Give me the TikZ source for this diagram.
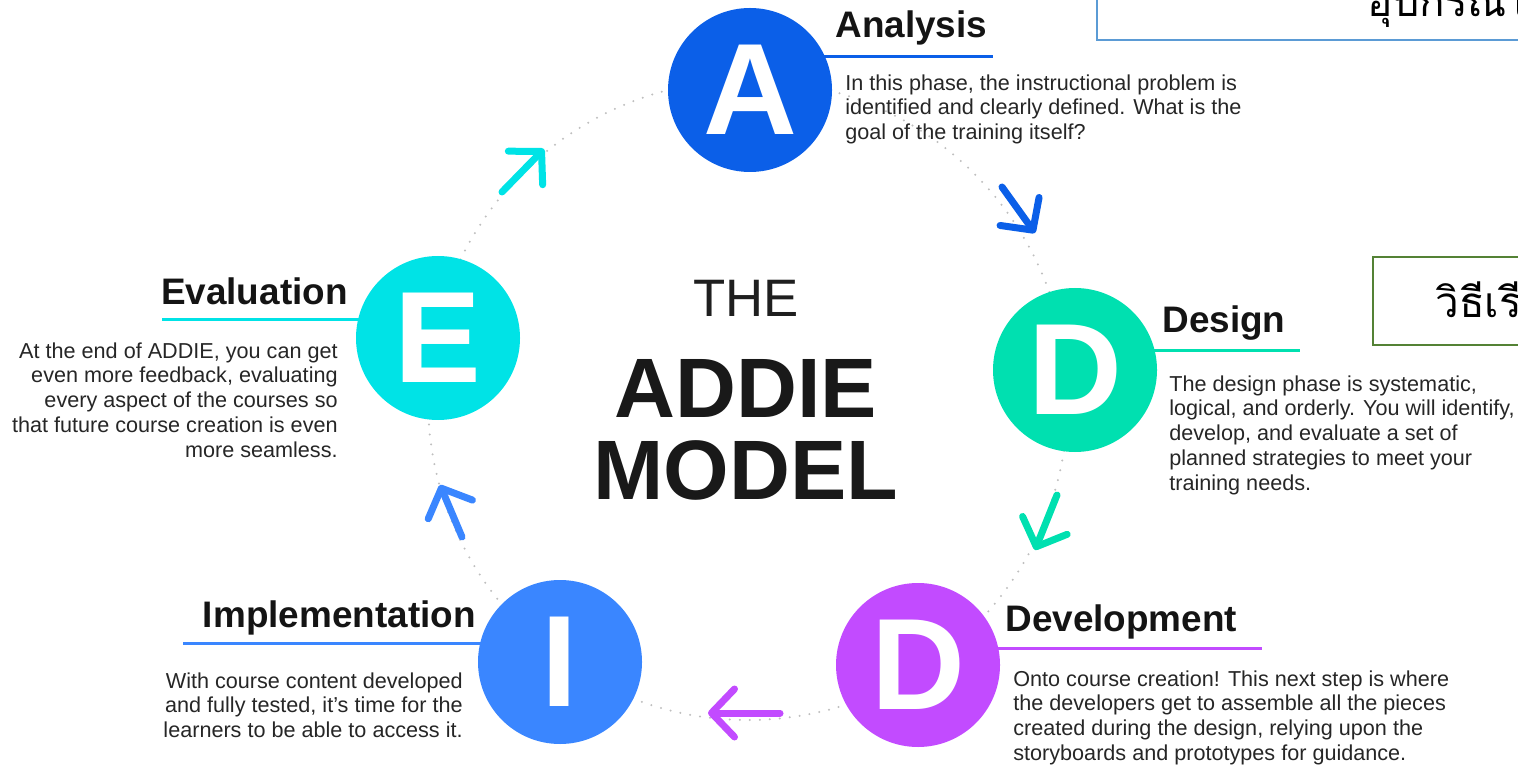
\documentclass[tikz,border=0pt]{standalone}
\usepackage{fontspec}
\setmainfont{Liberation Sans}
\newfontfamily\thaifont[Script=Thai]{Loma}
\usepackage{tikz}
\usetikzlibrary{arrows.meta}
\definecolor{anablue}{HTML}{0B5FE8}
\definecolor{desgreen}{HTML}{00E0B0}
\definecolor{devpurple}{HTML}{C24BFF}
\definecolor{impblue}{HTML}{3A86FF}
\definecolor{evacyan}{HTML}{00E3E6}
\definecolor{boxblue}{HTML}{5B9BD5}
\definecolor{boxgreen}{HTML}{548235}
\tikzset{
	phase/.style={circle, minimum size=32.8mm, inner sep=0pt, text=white, font=\fontsize{74}{74}\selectfont\bfseries},
	phasetitle/.style={inner sep=0pt, text=black!92, font=\fontsize{21}{24}\selectfont\bfseries},
	phasetext/.style={inner sep=0pt, text=black!85, font=\fontsize{12.3}{14.2}\selectfont},
	underline/.style={line width=0.6mm},
	ring/.style={black!25, line width=0.45mm, line cap=round, dash pattern=on 0pt off 2mm},
	ringarrow/.style={line width=1.4mm, line cap=round, -{Straight Barb[round, length=4.6mm, width=9.6mm]}},
	notebox/.style={line width=0.5mm},
	notetext/.style={anchor=base west, inner sep=0pt, font=\thaifont\fontsize{24}{28}\selectfont}
}

\begin{document}
\begin{tikzpicture}[x=0.2mm, y=-0.2mm]
		%%%%% START %%%%%
		\useasboundingbox (0,0) rectangle (1518,768);
		\clip (0,0) rectangle (1518,768);
		
		% dotted cycle
		\draw[ring] (748,400) circle[radius=64mm];
		
		\coordinate (ea-tail) at (502,192);
		\coordinate (ea-tip) at (544,149);
		\coordinate (ad-tail) at (1002,187);
		\coordinate (ad-tip) at (1035,233);
		\coordinate (dd-tail) at (1057,495);
		\coordinate (dd-tip) at (1035,550);
		\coordinate (di-tail) at (780,713);
		\coordinate (di-tip) at (708,713);
		\coordinate (ie-tail) at (462,537);
		\coordinate (ie-tip) at (440,485);
		
		\draw[ringarrow, evacyan] (ea-tail) -- (ea-tip);
		\draw[ringarrow, anablue] (ad-tail) -- (ad-tip);
		\draw[ringarrow, desgreen] (dd-tail) -- (dd-tip);
		\draw[ringarrow, devpurple] (di-tail) -- (di-tip);
		\draw[ringarrow, impblue] (ie-tail) -- (ie-tip);
		
		% underlines
		\draw[underline, anablue] (750,57) -- (993,57);
		\draw[underline, desgreen] (1075,351) -- (1300,351);
		\draw[underline, devpurple] (918,648) -- (1262,648);
		\draw[underline, impblue] (183,643) -- (560,643);
		\draw[underline, evacyan] (162,320) -- (438,320);
		
		% phases
		\node[phase, fill=anablue] (ana) at (750,90) {A};
		\node[phase, fill=desgreen] (des) at (1075,370) {D};
		\node[phase, fill=devpurple] (dev) at (918,665) {D};
		\node[phase, fill=impblue] (imp) at (560,662) {I};
		\node[phase, fill=evacyan] (eva) at (438,338) {E};
		
		\node[phasetitle, anchor=base west] (anatitle) at (835,38) {Analysis};
		\node[phasetitle, anchor=base west] (destitle) at (1162,333) {Design};
		\node[phasetitle, anchor=base west] (devtitle) at (1005,631) {Development};
		\node[phasetitle, anchor=base east] (imptitle) at (476,627) {Implementation};
		\node[phasetitle, anchor=base east] (evatitle) at (348,305) {Evaluation};
		
		\node[phasetext, anchor=north west, align=left] (anatext) at (845,74) {In this phase, the instructional problem is\\identified and clearly defined. What is the\\goal of the training itself?};
		\node[phasetext, anchor=north west, align=left] (destext) at (1169,375) {The design phase is systematic,\\logical, and orderly. You will identify,\\develop, and evaluate a set of\\planned strategies to meet your\\training needs.};
		\node[phasetext, anchor=north west, align=left] (devtext) at (1013,670) {Onto course creation! This next step is where\\the developers get to assemble all the pieces\\created during the design, relying upon the\\storyboards and prototypes for guidance.};
		\node[phasetext, anchor=north east, align=right] (imptext) at (463,672) {With course content developed\\and fully tested, it’s time for the\\learners to be able to access it.};
		\node[phasetext, anchor=north east, align=right] (evatext) at (338,342) {At the end of ADDIE, you can get\\even more feedback, evaluating\\every aspect of the courses so\\that future course creation is even\\more seamless.};
		
		% centre
		\node[text=black!88, font=\fontsize{30}{30}\selectfont] (the) at (746,298) {THE};
		\node[text=black!90, font=\fontsize{48}{48}\selectfont\bfseries] (addie) at (746,388) {ADDIE};
		\node[text=black!90, font=\fontsize{48}{48}\selectfont\bfseries] (model) at (746,470) {MODEL};
		
		% notes
		\draw[notebox, boxblue] (1097,-40) rectangle (1545,40);
		\node[notetext] (topnote) at (1367,17) {อุปกรณ์ในห้องเรียน};
		\draw[notebox, boxgreen] (1373,257) rectangle (1545,345);
		\node[notetext] (sidenote) at (1435,318) {วิธีเรียน};
		
		%%%%% END %%%%%
\end{tikzpicture}
\end{document}
